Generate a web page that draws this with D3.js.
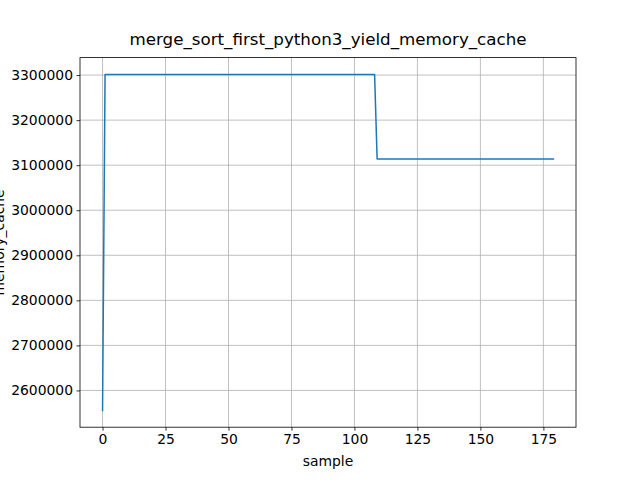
<!DOCTYPE html>
<html>
<head>
<meta charset="utf-8">
<script src="https://cdn.jsdelivr.net/npm/d3@7"></script>
<style>
  body { margin: 0; background: #fff; }
  text { font-family: "DejaVu Sans", sans-serif; fill: #000; }
</style>
</head>
<body>
<svg width="640" height="480"></svg>
<script>
  // breakpoints of the series (value is flat between them)
  var samples = [0, 1, 108, 109, 179];
  var memory = [2555700, 3301500, 3301500, 3113700, 3113700];
  var xTicks = [0, 25, 50, 75, 100, 125, 150, 175];
  var yTicks = [2600000, 2700000, 2800000, 2900000, 3000000, 3100000, 3200000, 3300000];

  var title = "merge_sort_first_python3_yield_memory_cache";
  var xAxisLabel = "sample";
  var yAxisLabel = "memory_cache";

  var svg = d3.select("svg");
  var width = +svg.attr("width");
  var height = +svg.attr("height");
  var margin = { top: 57.6, right: 64, bottom: 52.8, left: 80 };
  var innerWidth = width - margin.left - margin.right;
  var innerHeight = height - margin.top - margin.bottom;

  var data = samples.map(function (s, i) { return { x: s, y: memory[i] }; });

  // matplotlib style 5% margins
  var xExt = d3.extent(samples);
  var xPad = (xExt[1] - xExt[0]) * 0.05;
  var yExt = d3.extent(memory);
  var yPad = (yExt[1] - yExt[0]) * 0.05;

  var xScale = d3.scaleLinear()
    .domain([xExt[0] - xPad, xExt[1] + xPad])
    .range([0, innerWidth]);
  var yScale = d3.scaleLinear()
    .domain([yExt[0] - yPad, yExt[1] + yPad])
    .range([innerHeight, 0]);

  var g = svg.append("g")
    .attr("transform", "translate(" + margin.left + "," + margin.top + ")");

  // grid
  g.append("g").selectAll("line").data(xTicks).enter().append("line")
    .attr("x1", function (d) { return xScale(d); })
    .attr("x2", function (d) { return xScale(d); })
    .attr("y1", 0).attr("y2", innerHeight)
    .attr("stroke", "#b0b0b0").attr("stroke-width", 0.8);
  g.append("g").selectAll("line").data(yTicks).enter().append("line")
    .attr("y1", function (d) { return yScale(d); })
    .attr("y2", function (d) { return yScale(d); })
    .attr("x1", 0).attr("x2", innerWidth)
    .attr("stroke", "#b0b0b0").attr("stroke-width", 0.8);

  // line
  var line = d3.line()
    .x(function (d) { return xScale(d.x); })
    .y(function (d) { return yScale(d.y); });
  g.append("path")
    .datum(data)
    .attr("d", line)
    .attr("fill", "none")
    .attr("stroke", "#1f77b4")
    .attr("stroke-width", 1.5)
    .attr("stroke-linejoin", "round")
    .attr("stroke-linecap", "square");

  // axes
  var xAxis = d3.axisBottom(xScale).tickValues(xTicks).tickSize(3.5).tickPadding(3.5);
  var yAxis = d3.axisLeft(yScale).tickValues(yTicks).tickSize(3.5).tickPadding(3.5)
    .tickFormat(d3.format("d"));

  var xAxisGroup = g.append("g")
    .attr("transform", "translate(0," + innerHeight + ")")
    .call(xAxis);
  var yAxisGroup = g.append("g").call(yAxis);

  [xAxisGroup, yAxisGroup].forEach(function (ax) {
    ax.select(".domain").remove();
    ax.selectAll(".tick line").attr("stroke", "#000").attr("stroke-width", 0.8);
    ax.selectAll(".tick text")
      .attr("font-family", "DejaVu Sans")
      .attr("font-size", "13.9px")
      .attr("fill", "#000");
  });

  // spines
  g.append("rect")
    .attr("width", innerWidth).attr("height", innerHeight)
    .attr("fill", "none").attr("stroke", "#000").attr("stroke-width", 0.8);

  // labels
  g.append("text")
    .text(title)
    .attr("x", innerWidth / 2)
    .attr("y", -12.3)
    .attr("text-anchor", "middle")
    .attr("font-size", "16.7px");

  g.append("text")
    .text(xAxisLabel)
    .attr("x", innerWidth / 2)
    .attr("y", innerHeight + 38.5)
    .attr("text-anchor", "middle")
    .attr("font-size", "13.9px");

  g.append("text")
    .text(yAxisLabel)
    .attr("transform", "rotate(-90)")
    .attr("x", -innerHeight / 2)
    .attr("y", -76)
    .attr("text-anchor", "middle")
    .attr("font-size", "13.9px");
</script>
</body>
</html>
